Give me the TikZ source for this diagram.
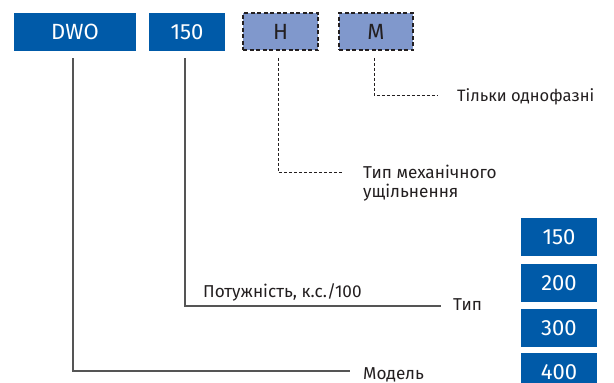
\documentclass[tikz,border=0pt]{standalone}
\usepackage{fontspec}
\setmainfont{Fira Sans}
\definecolor{boxblue}{RGB}{0,90,168}
\definecolor{optblue}{RGB}{128,152,204}
\definecolor{txt}{RGB}{35,31,32}
\definecolor{linegray}{RGB}{85,85,85}
\begin{document}
\begin{tikzpicture}[x=1pt,y=-1pt,
  bluebox/.style={fill=boxblue,text=white,inner sep=0pt,minimum height=38pt,font=\fontsize{22}{22}\selectfont},
  optbox/.style={fill=optblue,draw=txt,dash pattern=on 4pt off 2.5pt,line width=1.5pt,text=txt,inner sep=0pt,minimum height=37pt,minimum width=75pt,font=\fontsize{22}{22}\selectfont},
  lbl/.style={anchor=west,inner sep=0pt,text=txt,font=\fontsize{17.2}{19}\selectfont,align=left},
  conn/.style={draw=linegray,line width=1.3pt,shorten <=7pt},
  dconn/.style={draw=txt,line width=0.9pt,dash pattern=on 3pt off 2pt,shorten <=7pt}]
\useasboundingbox (0,0) rectangle (614,383);
% top code boxes
\node[bluebox,minimum width=122pt] (dwo) at (75,32) {DWO};
\node[bluebox,minimum width=76pt] (p150) at (187,32) {150};
\node[optbox] (h) at (280.5,31.5) {H};
\node[optbox,minimum width=74pt] (m) at (376,31.5) {M};
% right value boxes
\node[bluebox,minimum width=76pt] (v150) at (559,237) {150};
\node[bluebox,minimum width=76pt] (v200) at (559,283) {200};
\node[bluebox,minimum width=76pt] (v300) at (559,328) {300};
\node[bluebox,minimum width=76pt] (v400) at (559,372) {400};
% labels
\node[lbl] (lmodel) at (363,375) {Модель};
\node[lbl] (ltype) at (453,305) {Тип};
\node[lbl] (lpow) at (203,292) {Потужність, к.с./100};
\node[lbl] (lseal) at (363,183) {Тип механічного\\ущільнення};
\node[lbl,font=\fontsize{16.5}{19}\selectfont] (lone) at (457,97) {Тільки однофазні};
% corner and end coordinates
\coordinate (c1) at (73,371);  \coordinate (e1) at (350,371);
\coordinate (c2) at (185,306); \coordinate (e2) at (441,306);
\coordinate (c3) at (278,172); \coordinate (e3) at (342,172);
\coordinate (c4) at (374,95);  \coordinate (e4) at (437,95);
% connectors
\draw[conn] (c1 |- dwo.south) -- (c1) -- (e1);
\draw[conn] (c2 |- p150.south) -- (c2) -- (e2);
\draw[dconn] (c3 |- h.south) -- (c3) -- (e3);
\draw[dconn] (c4 |- m.south) -- (c4) -- (e4);
\end{tikzpicture}
\end{document}
